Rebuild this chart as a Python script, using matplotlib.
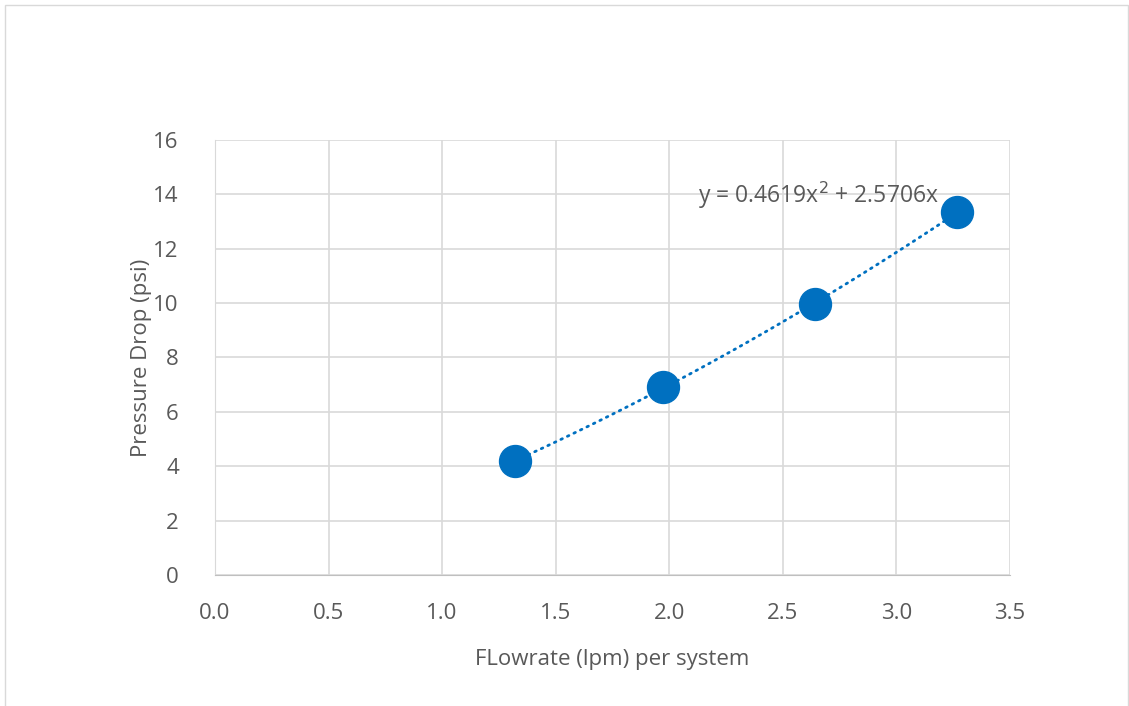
import numpy as np
import matplotlib.pyplot as plt
from matplotlib.patches import Rectangle

flow = [1.321, 1.972, 2.642, 3.267]
dp = [4.19, 6.93, 9.97, 13.35]
# trendline coefficients as shown on the chart
a2, a1 = 0.4619, 2.5706
xticks = [0.0, 0.5, 1.0, 1.5, 2.0, 2.5, 3.0, 3.5]
yticks = [0, 2, 4, 6, 8, 10, 12, 14, 16]

grey = '#595959'
blue = '#0070C0'
plt.rcParams['font.family'] = ['Open Sans', 'DejaVu Sans']

fig = plt.figure(figsize=(11.29, 7.06), dpi=100)
fig.patches.append(Rectangle((0.004, -0.01), 0.995, 1.003, transform=fig.transFigure,
                             fill=False, edgecolor='#d9d9d9', lw=1))
ax = fig.add_axes([0.1904, 0.1856, 0.7042, 0.6161])

xs = np.linspace(flow[0], flow[-1], 100)
ax.plot(xs, a2 * xs**2 + a1 * xs, color=blue, lw=2, linestyle=(0, (0.6, 2.0)),
        dash_capstyle='round', zorder=2)
ax.plot(flow, dp, 'o', color=blue, markersize=23, zorder=3)
ax.text(3.185, 13.95, 'y = 0.4619x$^2$ + 2.5706x', ha='right', va='center',
        fontsize=16.5, color=grey)

ax.set_xlim(0, 3.5)
ax.set_ylim(0, 16)
ax.set_xticks(xticks)
ax.set_xticklabels([f'{v:.1f}' for v in xticks])
ax.set_yticks(yticks)
ax.grid(True, color='#d9d9d9', lw=1.2)
ax.set_axisbelow(True)
for s in ax.spines.values():
    s.set_visible(False)
ax.spines['left'].set_visible(True)
ax.spines['bottom'].set_visible(True)
ax.spines['left'].set_color('#d9d9d9')
ax.spines['bottom'].set_color('#bfbfbf')
ax.tick_params(length=0, labelsize=16, colors=grey)
ax.tick_params(axis='x', pad=20)
ax.tick_params(axis='y', pad=26)
ax.set_xlabel('FLowrate (lpm) per system', fontsize=16, color=grey, labelpad=18)
ax.set_ylabel('Pressure Drop (psi)', fontsize=16, color=grey, labelpad=1)

fig.savefig('out.png', dpi=100)
